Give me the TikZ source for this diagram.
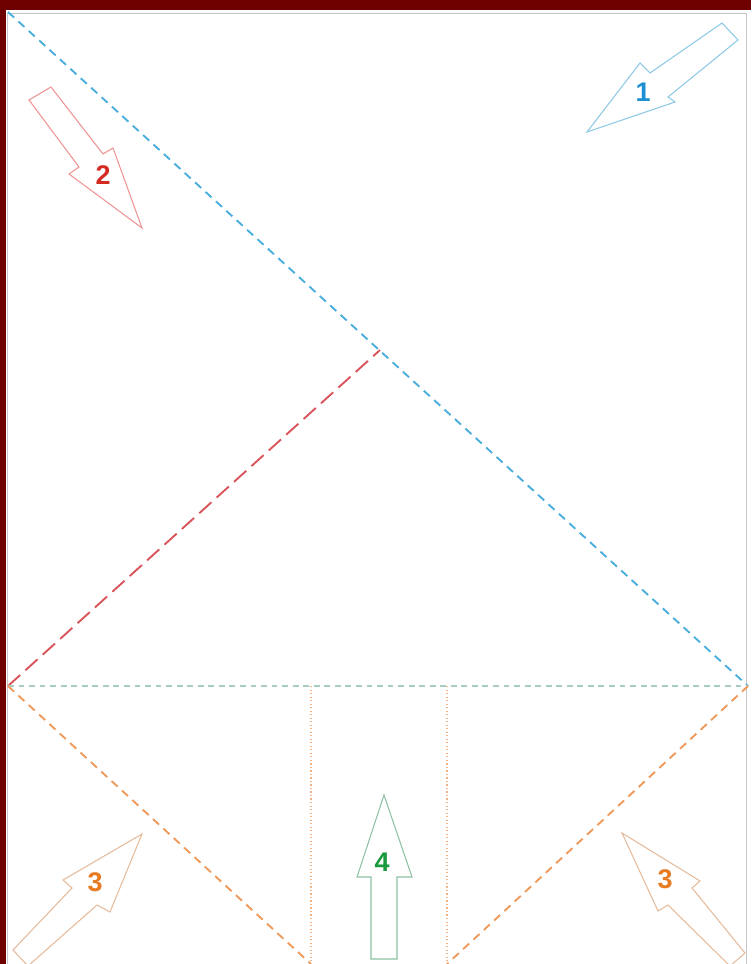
\documentclass[tikz,border=0pt]{standalone}
\usepackage{fontspec}
\setmainfont{Liberation Sans}
\usetikzlibrary{calc}

\definecolor{frame}{HTML}{6E0000}
\definecolor{foldblue}{HTML}{4AAEDC}
\definecolor{foldred}{HTML}{D9545A}
\definecolor{foldgreen}{HTML}{A6CCC4}
\definecolor{foldorange}{HTML}{EE9A5C}
\definecolor{edgeblue}{HTML}{8EC9E6}
\definecolor{edgered}{HTML}{EE9494}
\definecolor{edgeorange}{HTML}{E6BB9C}
\definecolor{edgegreen}{HTML}{8CC2A4}
\definecolor{numblue}{HTML}{1E8FD2}
\definecolor{numred}{HTML}{D42A22}
\definecolor{numorange}{HTML}{E87A22}
\definecolor{numgreen}{HTML}{1A9A3E}

\tikzset{
  fold/.style={line width=1.6pt, dash pattern=on 7pt off 5pt},
  num/.style={font=\bfseries\fontsize{23}{26}\selectfont, inner sep=0pt},
  blockarrow/.style={line width=0.9pt, fill=white, line join=miter}
}

\begin{document}
\begin{tikzpicture}[x=0.03cm, y=-0.03cm]
\useasboundingbox (0,0) rectangle (751,964);
\fill[frame] (0,0) rectangle (751,964);
\fill[white] (6,10) rectangle (751,964);
\draw[gray!45, line width=0.8pt] (7,964) -- (7,13) -- (746,13) -- (746,964);

% paper points
\coordinate (TL) at (8,12); \coordinate (L) at (8,686); \coordinate (R) at (748,686);
\coordinate (M) at (380,350);
\coordinate (BL) at (311,964); \coordinate (BR) at (447,964);
\coordinate (VL) at (311,686); \coordinate (VR) at (447,686);

\draw[fold, foldblue] (TL)--(R);
\draw[fold, foldred, dash pattern=on 14pt off 6pt] (L)--(M);
\draw[fold, foldgreen, line width=1.1pt, dash pattern=on 5pt off 4pt] (L)--(R);
\draw[fold, foldorange] (L)--(BL);
\draw[fold, foldorange] (R)--(BR);
\draw[foldorange!75, line width=1pt, dotted] (VL)--(BL);
\draw[foldorange!75, line width=1pt, dotted] (VR)--(BR);

% arrow 1
\draw[blockarrow, draw=edgeblue] (722,23)--(738,40)--(668,97)--(675,102)--(587,132)--(640,63)--(650,73)--cycle;
\node[num, text=numblue] (n1) at (643,92) {1};
% arrow 2
\draw[blockarrow, draw=edgered] (29,100)--(51,87)--(103,154)--(113,148)--(142,228)--(69,174)--(79,167)--cycle;
\node[num, text=numred] (n2) at (103,175) {2};
% arrows 3
\draw[blockarrow, draw=edgeorange] (13,950)--(28,966)--(97,905)--(110,912)--(142,834)--(63,880)--(72,888)--cycle;
\node[num, text=numorange] (n3a) at (95,882) {3};
\draw[blockarrow, draw=edgeorange] (745,953)--(730,966)--(668,905)--(658,911)--(622,833)--(700,881)--(692,888)--cycle;
\node[num, text=numorange] (n3b) at (665,879) {3};
% arrow 4
\draw[blockarrow, draw=edgegreen] (371,959)--(397,959)--(397,877)--(412,877)--(384,795)--(357,877)--(371,877)--cycle;
\node[num, text=numgreen] (n4) at (382,862) {4};
\end{tikzpicture}
\end{document}
